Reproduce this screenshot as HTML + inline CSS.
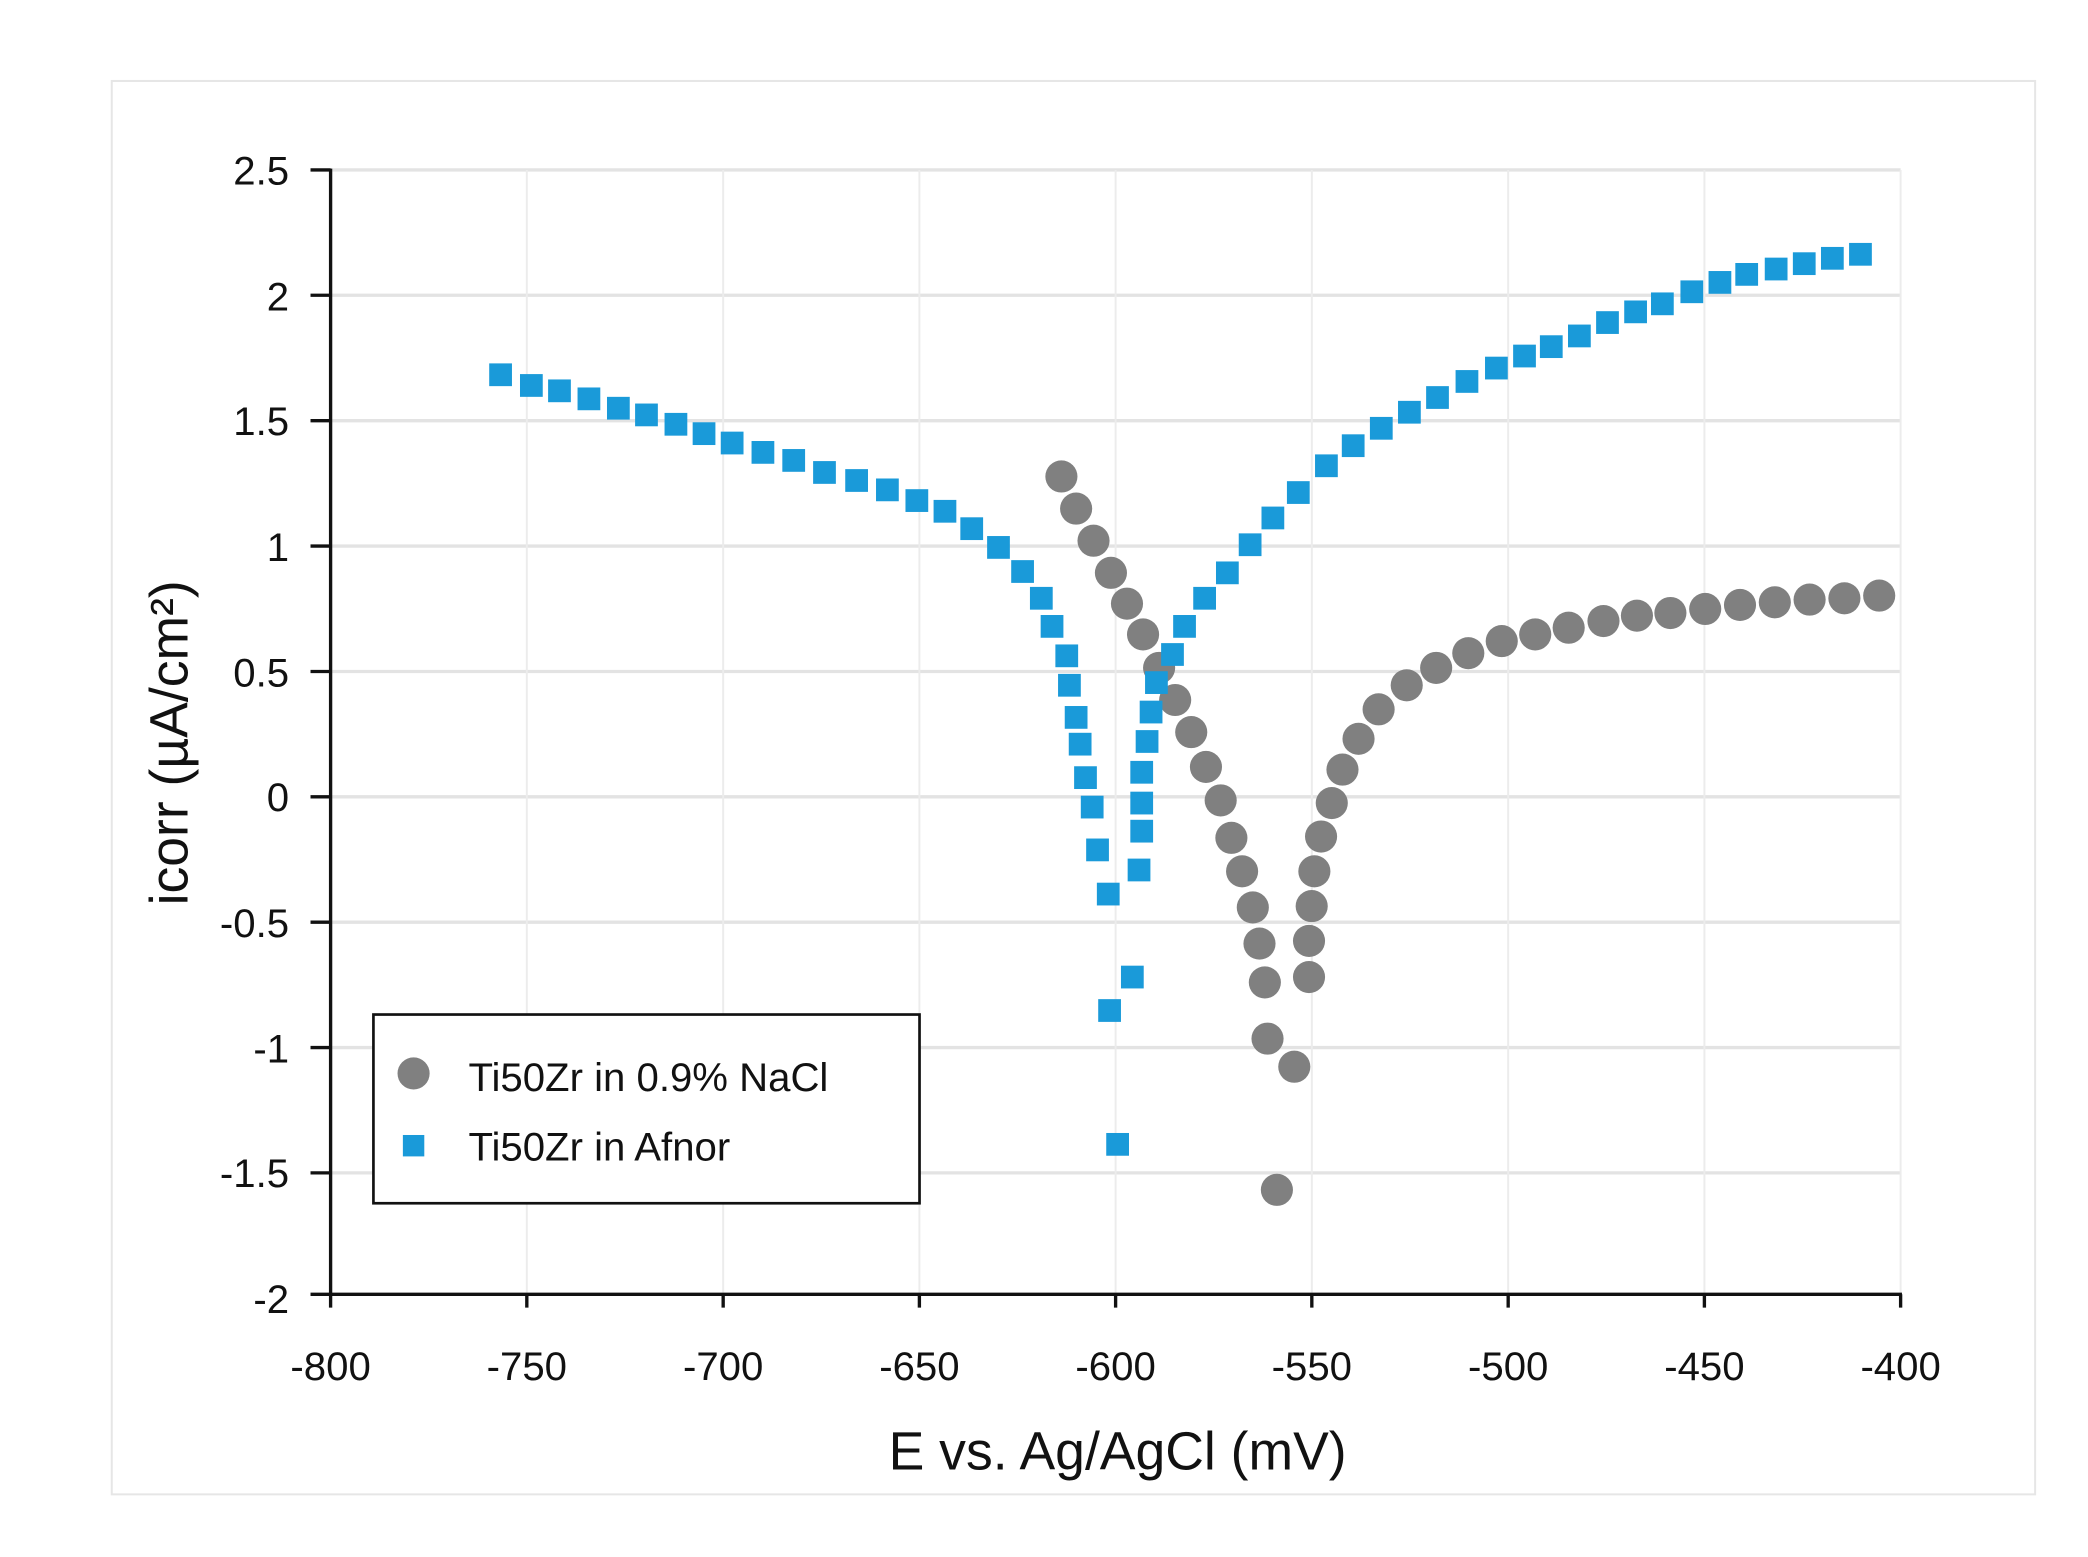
<!DOCTYPE html>
<html><head><meta charset="utf-8"><style>
html,body{margin:0;padding:0;background:#fff;}
svg{display:block;}
text{font-family:"Liberation Sans",sans-serif;fill:#111;}
</style></head><body>
<svg width="2088" height="1557" viewBox="0 0 1560 1163.3" preserveAspectRatio="none" xmlns="http://www.w3.org/2000/svg">
<rect x="0" y="0" width="1560" height="1164" fill="#fff"/>
<rect x="83.5" y="60.5" width="1437" height="1056" fill="#fff" stroke="#e6e6e6" stroke-width="1.5"/>
<g stroke="#e3e3e3" stroke-width="2.5">
<line x1="247" y1="127" x2="1420" y2="127"/>
<line x1="247" y1="220.6" x2="1420" y2="220.6"/>
<line x1="247" y1="314.3" x2="1420" y2="314.3"/>
<line x1="247" y1="408" x2="1420" y2="408"/>
<line x1="247" y1="501.7" x2="1420" y2="501.7"/>
<line x1="247" y1="595.3" x2="1420" y2="595.3"/>
<line x1="247" y1="689" x2="1420" y2="689"/>
<line x1="247" y1="782.7" x2="1420" y2="782.7"/>
<line x1="247" y1="876.3" x2="1420" y2="876.3"/>
</g>
<g stroke="#ececec" stroke-width="1.5">
<line x1="393.6" y1="127" x2="393.6" y2="967"/>
<line x1="540.3" y1="127" x2="540.3" y2="967"/>
<line x1="686.9" y1="127" x2="686.9" y2="967"/>
<line x1="833.5" y1="127" x2="833.5" y2="967"/>
<line x1="980.1" y1="127" x2="980.1" y2="967"/>
<line x1="1126.8" y1="127" x2="1126.8" y2="967"/>
<line x1="1273.4" y1="127" x2="1273.4" y2="967"/>
<line x1="1420" y1="127" x2="1420" y2="967"/>
</g>
<g stroke="#111" stroke-width="2.5" fill="none">
<line x1="247" y1="126" x2="247" y2="968"/>
<line x1="246" y1="967" x2="1421" y2="967"/>
<path d="M232 127H247M232 220.6H247M232 314.3H247M232 408H247M232 501.7H247M232 595.3H247M232 689H247M232 782.7H247M232 876.3H247M232 967H247"/>
<path d="M247 967V977M393.6 967V977M540.3 967V977M686.9 967V977M833.5 967V977M980.1 967V977M1126.8 967V977M1273.4 967V977M1420 967V977"/>
</g>
<g font-size="30" text-anchor="end">
<text x="216" y="138">2.5</text>
<text x="216" y="232">2</text>
<text x="216" y="325">1.5</text>
<text x="216" y="419">1</text>
<text x="216" y="513">0.5</text>
<text x="216" y="606">0</text>
<text x="216" y="700">-0.5</text>
<text x="216" y="794">-1</text>
<text x="216" y="887">-1.5</text>
<text x="216" y="981">-2</text>
</g>
<g font-size="30" text-anchor="middle">
<text x="247" y="1031">-800</text>
<text x="393.6" y="1031">-750</text>
<text x="540.3" y="1031">-700</text>
<text x="686.9" y="1031">-650</text>
<text x="833.5" y="1031">-600</text>
<text x="980.1" y="1031">-550</text>
<text x="1126.8" y="1031">-500</text>
<text x="1273.4" y="1031">-450</text>
<text x="1420" y="1031">-400</text>
</g>
<text x="835" y="1098" font-size="40" text-anchor="middle">E vs. Ag/AgCl (mV)</text>
<text transform="translate(140,555) rotate(-90)" font-size="40" text-anchor="middle">icorr (µA/cm²)</text>
<g fill="#808080">
<circle cx="793" cy="356" r="12"/><circle cx="804" cy="380" r="12"/><circle cx="817" cy="404" r="12"/><circle cx="830" cy="428" r="12"/><circle cx="842" cy="451" r="12"/><circle cx="854" cy="474" r="12"/><circle cx="866" cy="499" r="12"/><circle cx="878" cy="523" r="12"/><circle cx="890" cy="547" r="12"/><circle cx="901" cy="573" r="12"/><circle cx="912" cy="598" r="12"/><circle cx="920" cy="626" r="12"/><circle cx="928" cy="651" r="12"/><circle cx="936" cy="678" r="12"/><circle cx="941" cy="705" r="12"/><circle cx="945" cy="734" r="12"/><circle cx="947" cy="776" r="12"/><circle cx="967" cy="797" r="12"/><circle cx="954" cy="889" r="12"/><circle cx="978" cy="730" r="12"/><circle cx="978" cy="703" r="12"/><circle cx="980" cy="677" r="12"/><circle cx="982" cy="651" r="12"/><circle cx="987" cy="625" r="12"/><circle cx="995" cy="600" r="12"/><circle cx="1003" cy="575" r="12"/><circle cx="1015" cy="552" r="12"/><circle cx="1030" cy="530" r="12"/><circle cx="1051" cy="512" r="12"/><circle cx="1073" cy="499" r="12"/><circle cx="1097" cy="488" r="12"/><circle cx="1122" cy="479" r="12"/><circle cx="1147" cy="474" r="12"/><circle cx="1172" cy="469" r="12"/><circle cx="1198" cy="464" r="12"/><circle cx="1223" cy="460" r="12"/><circle cx="1248" cy="458" r="12"/><circle cx="1274" cy="455" r="12"/><circle cx="1300" cy="452" r="12"/><circle cx="1326" cy="450" r="12"/><circle cx="1352" cy="448" r="12"/><circle cx="1378" cy="447" r="12"/><circle cx="1404" cy="445" r="12"/>
</g>
<g fill="#1a9ad9" transform="translate(-8.5,-8.5)">
<rect x="374" y="280" width="17" height="17"/><rect x="397" y="288" width="17" height="17"/><rect x="418" y="292" width="17" height="17"/><rect x="440" y="298" width="17" height="17"/><rect x="462" y="305" width="17" height="17"/><rect x="483" y="310" width="17" height="17"/><rect x="505" y="317" width="17" height="17"/><rect x="526" y="324" width="17" height="17"/><rect x="547" y="331" width="17" height="17"/><rect x="570" y="338" width="17" height="17"/><rect x="593" y="344" width="17" height="17"/><rect x="616" y="353" width="17" height="17"/><rect x="640" y="359" width="17" height="17"/><rect x="663" y="366" width="17" height="17"/><rect x="685" y="374" width="17" height="17"/><rect x="706" y="382" width="17" height="17"/><rect x="726" y="395" width="17" height="17"/><rect x="746" y="409" width="17" height="17"/><rect x="764" y="427" width="17" height="17"/><rect x="778" y="447" width="17" height="17"/><rect x="786" y="468" width="17" height="17"/><rect x="797" y="490" width="17" height="17"/><rect x="799" y="512" width="17" height="17"/><rect x="804" y="536" width="17" height="17"/><rect x="807" y="556" width="17" height="17"/><rect x="811" y="581" width="17" height="17"/><rect x="816" y="603" width="17" height="17"/><rect x="820" y="635" width="17" height="17"/><rect x="828" y="668" width="17" height="17"/><rect x="829" y="755" width="17" height="17"/><rect x="846" y="730" width="17" height="17"/><rect x="835" y="855" width="17" height="17"/><rect x="851" y="650" width="17" height="17"/><rect x="853" y="621" width="17" height="17"/><rect x="853" y="600" width="17" height="17"/><rect x="853" y="577" width="17" height="17"/><rect x="857" y="554" width="17" height="17"/><rect x="860" y="532" width="17" height="17"/><rect x="864" y="510" width="17" height="17"/><rect x="876" y="489" width="17" height="17"/><rect x="885" y="468" width="17" height="17"/><rect x="900" y="447" width="17" height="17"/><rect x="917" y="428" width="17" height="17"/><rect x="934" y="407" width="17" height="17"/><rect x="951" y="387" width="17" height="17"/><rect x="970" y="368" width="17" height="17"/><rect x="991" y="348" width="17" height="17"/><rect x="1011" y="333" width="17" height="17"/><rect x="1032" y="320" width="17" height="17"/><rect x="1053" y="308" width="17" height="17"/><rect x="1074" y="297" width="17" height="17"/><rect x="1096" y="285" width="17" height="17"/><rect x="1118" y="275" width="17" height="17"/><rect x="1139" y="266" width="17" height="17"/><rect x="1159" y="259" width="17" height="17"/><rect x="1180" y="251" width="17" height="17"/><rect x="1201" y="241" width="17" height="17"/><rect x="1222" y="233" width="17" height="17"/><rect x="1242" y="227" width="17" height="17"/><rect x="1264" y="218" width="17" height="17"/><rect x="1285" y="211" width="17" height="17"/><rect x="1305" y="205" width="17" height="17"/><rect x="1327" y="201" width="17" height="17"/><rect x="1348" y="197" width="17" height="17"/><rect x="1369" y="193" width="17" height="17"/><rect x="1390" y="190" width="17" height="17"/>
</g>
<rect x="279" y="758" width="408" height="141" fill="#fff" stroke="#111" stroke-width="2"/>
<circle cx="309" cy="802" r="12" fill="#808080"/>
<rect x="301" y="848" width="16" height="16" fill="#1a9ad9"/>
<text x="350" y="815" font-size="30">Ti50Zr in 0.9% NaCl</text>
<text x="350" y="867" font-size="30">Ti50Zr in Afnor</text>
</svg>
</body></html>
